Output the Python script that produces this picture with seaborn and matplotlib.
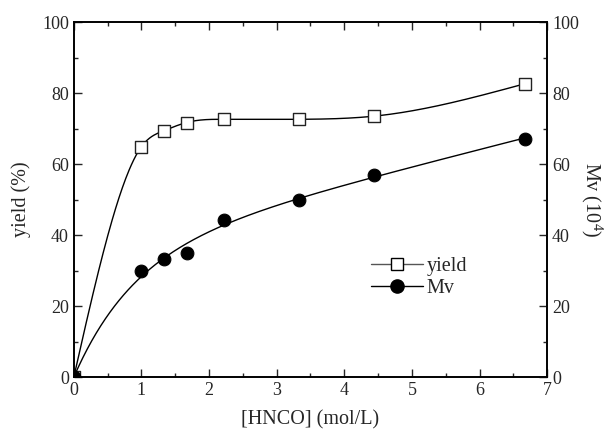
import numpy as np
import pandas as pd
import matplotlib
matplotlib.use('Agg')
import matplotlib.pyplot as plt
from matplotlib import font_manager
from matplotlib.lines import Line2D
from matplotlib.ticker import MultipleLocator
import seaborn as sns

# data
hnco = [0, 1.0, 1.333, 1.667, 2.222, 3.333, 4.444, 6.667]
yield_pct = [0, 64.9, 69.4, 71.7, 72.6, 72.6, 73.5, 82.6]
mv = [0, 29.9, 33.4, 34.9, 44.3, 49.9, 57.0, 67.1]


def natural_spline(x, y, xs):
    """Natural cubic spline through the points."""
    x = np.asarray(x, float)
    y = np.asarray(y, float)
    n = len(x)
    h = np.diff(x)
    A = np.zeros((n, n))
    r = np.zeros(n)
    A[0, 0] = A[-1, -1] = 1
    for i in range(1, n - 1):
        A[i, i - 1] = h[i - 1]
        A[i, i] = 2 * (h[i - 1] + h[i])
        A[i, i + 1] = h[i]
        r[i] = 6 * ((y[i + 1] - y[i]) / h[i] - (y[i] - y[i - 1]) / h[i - 1])
    M = np.linalg.solve(A, r)
    idx = np.clip(np.searchsorted(x, xs) - 1, 0, n - 2)
    t0 = x[idx + 1] - xs
    t1 = xs - x[idx]
    hi = h[idx]
    return (M[idx] * t0**3 / (6 * hi) + M[idx + 1] * t1**3 / (6 * hi)
            + (y[idx] / hi - M[idx] * hi / 6) * t0
            + (y[idx + 1] / hi - M[idx + 1] * hi / 6) * t1)


def saturating_fit(x, y, xs):
    """Least-squares fit y = a*x + b*(1 - exp(-x/tau)), tau picked on a grid."""
    x = np.asarray(x, float)
    y = np.asarray(y, float)
    best = None
    for tau in np.linspace(0.3, 5, 95):
        A = np.column_stack([x, 1 - np.exp(-x / tau)])
        coef, *_ = np.linalg.lstsq(A, y, rcond=None)
        err = np.sum((A @ coef - y) ** 2)
        if best is None or err < best[0]:
            best = (err, tau, coef)
    _, tau, coef = best
    return coef[0] * xs + coef[1] * (1 - np.exp(-xs / tau))


def pick_font(names):
    for n in names:
        try:
            font_manager.findfont(font_manager.FontProperties(family=n),
                                  fallback_to_default=False)
            return n
        except Exception:
            continue
    return 'DejaVu Serif'


xs = np.linspace(0, max(hnco), 400)
df_pts = pd.DataFrame({'hnco': hnco, 'yield': yield_pct, 'mv': mv})
df_curve = pd.DataFrame({'hnco': xs,
                         'yield': natural_spline(hnco, yield_pct, xs),
                         'mv': saturating_fit(hnco, mv, xs)})

sns.set_style("ticks")
serif = pick_font(['Liberation Serif', 'Times New Roman', 'Tinos', 'Nimbus Roman',
                   'STIXGeneral'])
plt.rcParams['font.family'] = [serif, 'DejaVu Serif']
plt.rcParams['mathtext.fontset'] = 'custom'
plt.rcParams['mathtext.rm'] = serif
plt.rcParams['font.size'] = 13

fig = plt.figure(figsize=(6.1, 4.32), dpi=100)
ax = fig.add_axes([0.121, 0.127, 0.776, 0.822])
ax2 = ax.twinx()

sns.lineplot(data=df_curve, x='hnco', y='yield', ax=ax, color='black', lw=1, sort=False)
sns.scatterplot(data=df_pts, x='hnco', y='yield', ax=ax, marker='s', s=70,
                facecolor='white', edgecolor='#222222', linewidth=1, zorder=3)
sns.lineplot(data=df_curve, x='hnco', y='mv', ax=ax2, color='black', lw=1, sort=False)
sns.scatterplot(data=df_pts, x='hnco', y='mv', ax=ax2, marker='o', s=85,
                color='black', edgecolor='black', zorder=3)

for a in (ax, ax2):
    a.set_xlim(0, 7)
    a.set_ylim(0, 100)
    a.yaxis.set_major_locator(MultipleLocator(20))
    a.yaxis.set_minor_locator(MultipleLocator(10))
    a.xaxis.set_major_locator(MultipleLocator(1))
    a.xaxis.set_minor_locator(MultipleLocator(0.5))
    a.tick_params(which='major', direction='in', length=6, width=1, labelsize=13)
    a.tick_params(which='minor', direction='in', length=3, width=1)
    for sp in a.spines.values():
        sp.set_visible(True)
        sp.set_linewidth(1.2)
        sp.set_color('black')

ax.tick_params(which='both', top=True, right=False)
ax2.tick_params(which='both', left=False, right=True)

ax.set_xlabel('[HNCO] (mol/L)', fontsize=14.5, labelpad=8)
ax.set_ylabel('yield (%)', fontsize=14.5, labelpad=8)
ax2.set_ylabel('Mv (10$^4$)', fontsize=14.5, rotation=270, labelpad=19)

handles = [
    Line2D([], [], color='#555555', lw=1, marker='s', markersize=8,
           markerfacecolor='white', markeredgecolor='black'),
    Line2D([], [], color='black', lw=1, marker='o', markersize=9.5,
           markerfacecolor='black', markeredgecolor='black'),
]
ax.legend(handles, ['yield', 'Mv'], loc='center left', bbox_to_anchor=(0.59, 0.28),
          frameon=False, handlelength=2.55, handletextpad=0.2, labelspacing=0.15,
          fontsize=14.5)

plt.savefig('out.png', dpi=100)
plt.close()
